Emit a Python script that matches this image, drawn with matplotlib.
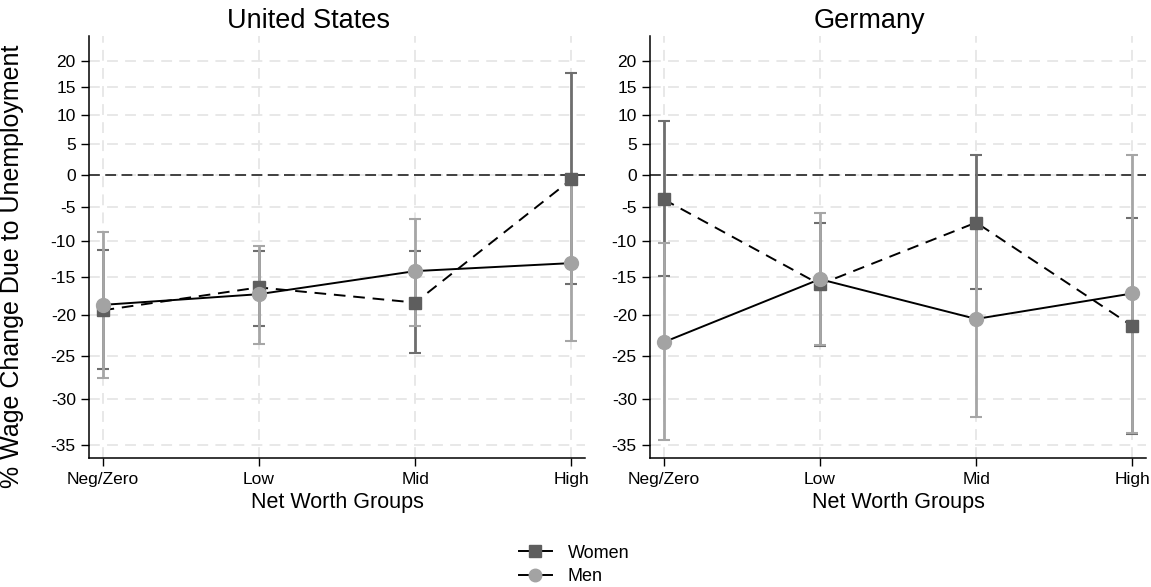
import numpy as np
import matplotlib.pyplot as plt
from matplotlib.lines import Line2D

plt.rcParams['font.family'] = ['Liberation Sans', 'DejaVu Sans']
plt.rcParams['axes.unicode_minus'] = False

groups = ["Neg/Zero", "Low", "Mid", "High"]
yticks = [-35, -30, -25, -20, -15, -10, -5, 0, 5, 10, 15, 20]

# % wage change, point estimate and 95% CI bounds
us_women = [-19.4, -16.4, -18.4, -0.7]
us_women_lo = [-26.6, -21.4, -24.7, -16.0]
us_women_hi = [-11.2, -11.4, -11.4, 17.6]
us_men = [-18.7, -17.3, -14.2, -13.1]
us_men_lo = [-27.6, -23.6, -21.4, -23.3]
us_men_hi = [-8.7, -10.7, -6.7, -1.5]

de_women = [-3.8, -16.0, -7.3, -21.4]
de_women_lo = [-14.9, -23.8, -16.6, -33.8]
de_women_hi = [8.9, -7.3, 3.2, -6.6]
de_men = [-23.4, -15.3, -20.5, -17.2]
de_men_lo = [-34.4, -23.7, -32.0, -33.7]
de_men_hi = [-10.3, -5.9, -7.1, 3.2]

women_col = "#5e5e5e"
women_bar = "#6e6e6e"
men_col = "#a3a3a3"
men_bar = "#a6a6a6"


def fwd(y):
    return np.log1p(np.asarray(y, dtype=float) / 100.0)


def inv(v):
    return 100.0 * np.expm1(v)


def panel(ax, title, w, wlo, whi, m, mlo, mhi):
    x = np.arange(len(groups))
    ax.set_yscale('function', functions=(fwd, inv))
    w, wlo, whi = map(np.array, (w, wlo, whi))
    m, mlo, mhi = map(np.array, (m, mlo, mhi))
    ax.errorbar(x, w, yerr=[w - wlo, whi - w], fmt='none', ecolor=women_bar,
                elinewidth=2, capsize=4, capthick=1.5, zorder=3)
    ax.errorbar(x, m, yerr=[m - mlo, mhi - m], fmt='none', ecolor=men_bar,
                elinewidth=2, capsize=4, capthick=1.5, zorder=4)
    ax.plot(x, w, color='black', ls=(0, (6, 4)), lw=1.4, zorder=5)
    ax.plot(x, w, 's', color=women_col, ms=9, zorder=6)
    ax.plot(x, m, color='black', ls='-', lw=1.4, zorder=7)
    ax.plot(x, m, 'o', color=men_col, ms=10, zorder=8)
    ax.axhline(0, color='#333333', ls=(0, (6, 3)), lw=1.3, zorder=2)

    ax.set_xlim(-0.087, 3.087)
    ax.set_ylim(-36.3, 24.8)
    ax.set_yticks(yticks)
    ax.set_yticklabels([str(t) for t in yticks])
    ax.minorticks_off()
    ax.set_xticks(x)
    ax.set_xticklabels(groups)
    ax.tick_params(axis='both', labelsize=12.5, length=6, width=1, direction='out')
    ax.tick_params(axis='x', pad=4)
    ax.grid(True, color='#e6e6e6', ls=(0, (6, 4)), lw=1.3, zorder=0)
    ax.set_axisbelow(True)
    for s in ('top', 'right'):
        ax.spines[s].set_visible(False)
    ax.spines['left'].set_linewidth(1.1)
    ax.spines['bottom'].set_linewidth(1.1)
    ax.set_title(title, fontsize=19.5, pad=6, x=0.442)
    ax.set_xlabel("Net Worth Groups", fontsize=15.5, labelpad=4)


fig = plt.figure(figsize=(11.51, 5.87), dpi=100)
ax1 = fig.add_axes([0.0773, 0.2198, 0.431, 0.7189])
ax2 = fig.add_axes([0.5647, 0.2198, 0.431, 0.7189])

panel(ax1, "United States", us_women, us_women_lo, us_women_hi,
      us_men, us_men_lo, us_men_hi)
panel(ax2, "Germany", de_women, de_women_lo, de_women_hi,
      de_men, de_men_lo, de_men_hi)
ax1.set_ylabel("% Wage Change Due to Unemployment", fontsize=18)
ax1.yaxis.set_label_coords(-0.13, 0.455)

handles = [
    Line2D([], [], color='black', lw=1.4, marker='s', ms=8, mfc=women_col, mec=women_col),
    Line2D([], [], color='black', lw=1.4, marker='o', ms=9, mfc=men_col, mec=men_col),
]
fig.legend(handles, ["Women", "Men"], loc='upper center', bbox_to_anchor=(0.499, 0.1),
           frameon=False, fontsize=13, handlelength=1.8, labelspacing=0.35,
           handletextpad=0.9)

fig.savefig("out.png", dpi=100)
